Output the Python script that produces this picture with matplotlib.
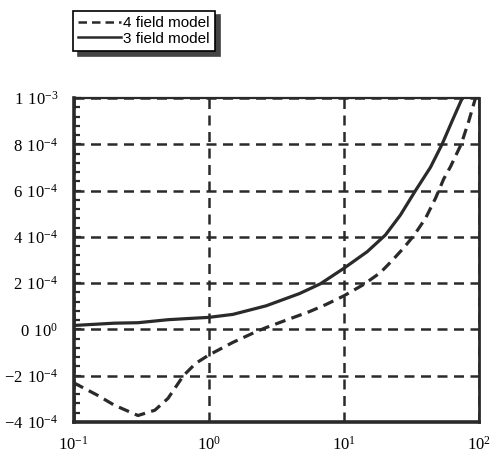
import numpy as np
import matplotlib
matplotlib.use("Agg")
import matplotlib.pyplot as plt
from matplotlib.ticker import MultipleLocator

# 3 field model (solid), values in units of 1e-4
x_3field = [0.1, 0.2, 0.3, 0.5, 0.7, 1.0, 1.51, 2.66, 4.7, 6.7, 10.0, 14.9,
            20.3, 26.2, 33.9, 43.7, 53.3, 63.2, 75.2]
y_3field = [0.17, 0.27, 0.29, 0.42, 0.47, 0.52, 0.65, 1.02, 1.55, 1.97, 2.64, 3.36,
            4.08, 4.94, 6.0, 7.0, 8.0, 9.0, 10.0]

# 4 field model (dashed)
x_4field = [0.1, 0.15, 0.2, 0.3, 0.4, 0.5, 0.65, 0.8, 1.0, 1.51, 2.24, 2.66,
            3.74, 5.57, 7.4, 10.0, 14.0, 18.6, 22.8, 27.7, 32.9, 40.2, 47.6,
            54.8, 61.5, 73.8, 84.0, 94.2]
y_4field = [-2.3, -2.84, -3.27, -3.72, -3.49, -2.98, -2.0, -1.47, -1.11, -0.56,
            -0.1, 0.08, 0.4, 0.77, 1.08, 1.45, 1.94, 2.45, 2.98, 3.52, 4.05, 4.8,
            5.66, 6.5, 7.03, 8.0, 9.0, 10.0]

scale = 1e-4
y_ticks = [-4, -2, 0, 2, 4, 6, 8, 10]
y_labels = [r'$\mathregular{-4\ 10^{-4}}$', r'$\mathregular{-2\ 10^{-4}}$',
            r'$\mathregular{0\ 10^{0}}$', r'$\mathregular{2\ 10^{-4}}$',
            r'$\mathregular{4\ 10^{-4}}$', r'$\mathregular{6\ 10^{-4}}$',
            r'$\mathregular{8\ 10^{-4}}$', r'$\mathregular{1\ 10^{-3}}$']
x_ticks = [0.1, 1, 10, 100]
x_labels = [r'$\mathregular{10^{-1}}$', r'$\mathregular{10^{0}}$',
            r'$\mathregular{10^{1}}$', r'$\mathregular{10^{2}}$']

plt.rcParams['font.family'] = ['Liberation Serif', 'DejaVu Serif']
ink = '#2a2a2a'

fig = plt.figure(figsize=(4.91, 4.53), dpi=100)
ax = fig.add_axes([73.5/491, 1 - 422/453, (479 - 73.5)/491, (422 - 98)/453])

ax.plot(x_3field, np.array(y_3field)*scale, color=ink, lw=2.3,
        label='3 field model')
ax.plot(x_4field, np.array(y_4field)*scale, color=ink, lw=2.3,
        dashes=(3.4, 2.0), label='4 field model')

ax.set_xscale('log')
ax.set_xlim(0.1, 100)
ax.set_ylim(-4e-4, 10e-4)
ax.set_xticks(x_ticks)
ax.set_xticklabels(x_labels, fontsize=12)
ax.xaxis.set_minor_locator(matplotlib.ticker.NullLocator())
ax.set_yticks(np.array(y_ticks)*scale)
ax.set_yticklabels(y_labels, fontsize=12)
ax.yaxis.set_minor_locator(MultipleLocator(0.4e-4))

ax.tick_params(axis='y', which='major', direction='in', length=5, width=1.6,
               color=ink, pad=11)
ax.tick_params(axis='y', which='minor', direction='in', length=4, width=1.6,
               color=ink)
ax.tick_params(axis='x', which='major', direction='in', length=0, pad=10)
ax.tick_params(which='both', labelcolor='black')

ax.grid(True, which='major', color=ink, lw=1.8, dashes=(4, 2.6))
for side, w in [('left', 2.6), ('bottom', 2.6), ('top', 1.6), ('right', 2.0)]:
    ax.spines[side].set_linewidth(w)
    ax.spines[side].set_color(ink)

handles, labels = ax.get_legend_handles_labels()
leg = fig.legend(handles[::-1], labels[::-1], loc='upper left',
                 bbox_to_anchor=(73/491, 1 - 10.5/453),
                 prop={'family': 'Liberation Sans', 'size': 11},
                 frameon=True, fancybox=False, borderaxespad=0,
                 handlelength=2.8, handletextpad=0.15, labelspacing=0.12,
                 borderpad=0.35,
                 shadow={'ox': 3.5, 'oy': -3.5, 'color': '#444444', 'alpha': 1})
leg.get_frame().set_edgecolor('black')
leg.get_frame().set_linewidth(1.2)
for line in leg.get_lines():
    line.set_linewidth(1.8)

plt.savefig('out.png', dpi=100)
